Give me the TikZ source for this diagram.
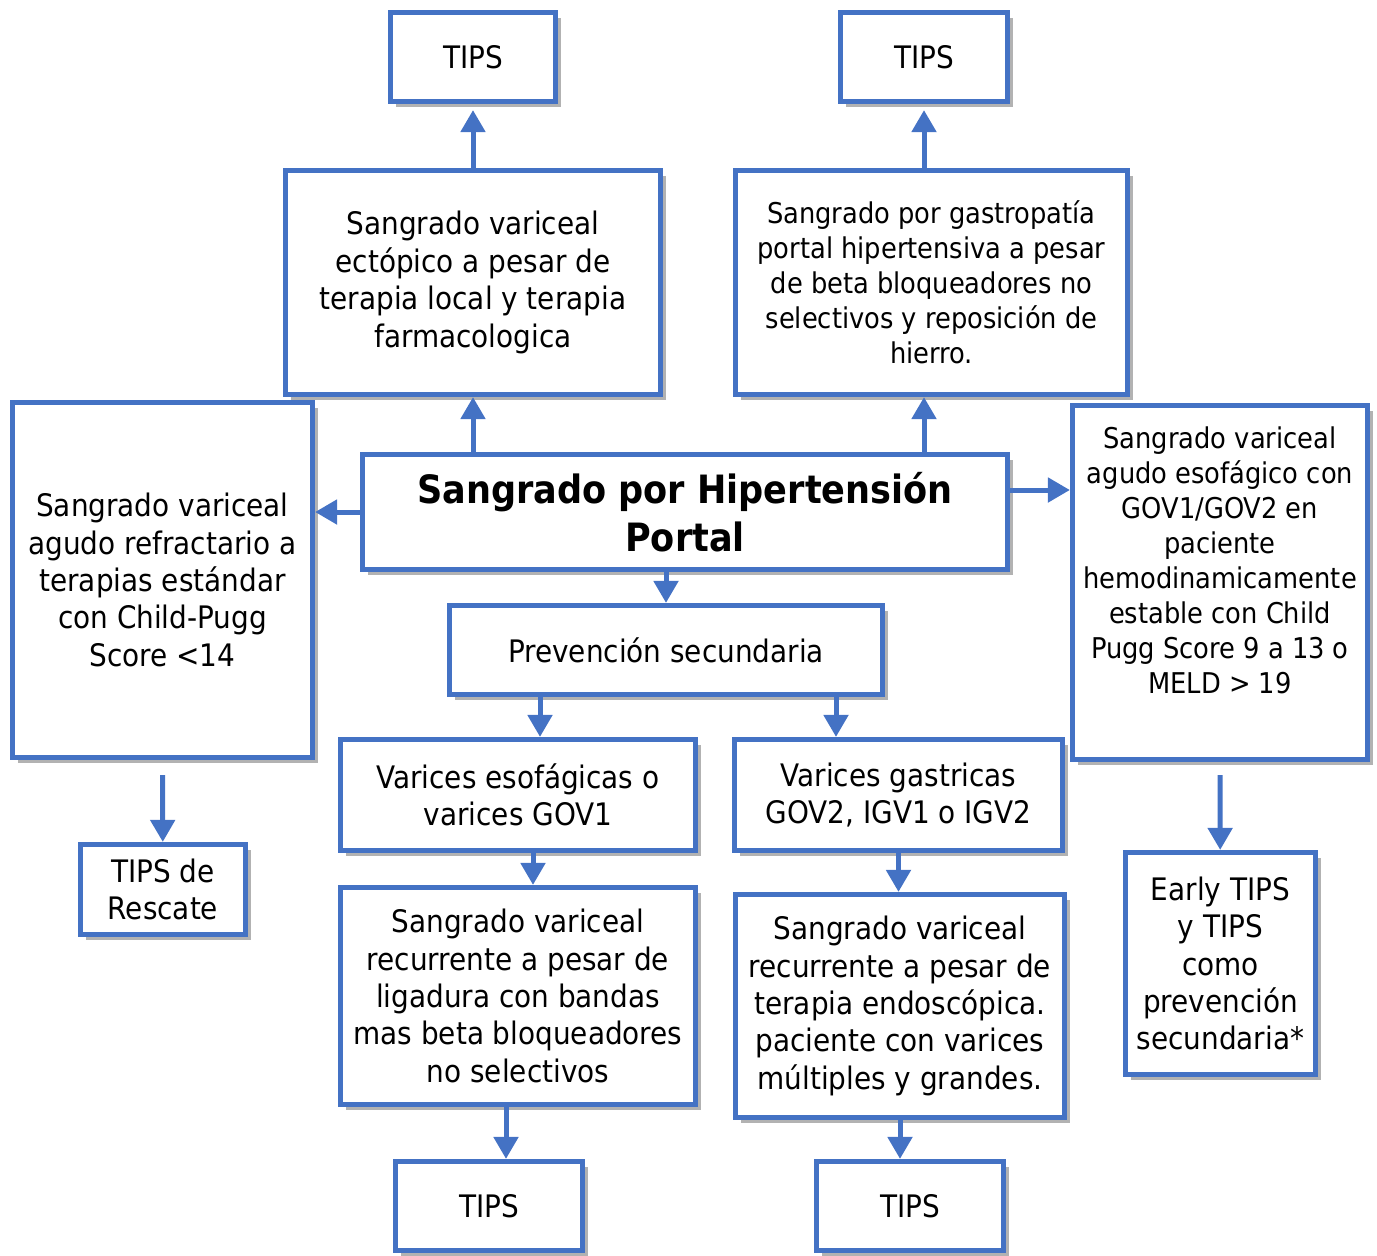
\documentclass[tikz,border=0pt]{standalone}
\usepackage{fontspec}
\setmainfont{DejaVu Sans Condensed}
\usepackage{xcolor}
\usepackage{tikz}
\usetikzlibrary{arrows.meta,shadows,calc}
\definecolor{boxblue}{RGB}{68, 114, 196}

\begin{document}
\begin{tikzpicture}[x=0.5pt,y=0.5pt,yscale=-1,xscale=1,
  box/.style={draw=boxblue,line width=2.6pt,fill=white,align=center,inner sep=2pt,
    font=\fontsize{15.5}{18.7}\selectfont,
    drop shadow={shadow xshift=2.5pt,shadow yshift=-2.5pt,opacity=0.3,fill=black}},
  smallbox/.style={box,font=\fontsize{14.3}{17.5}\selectfont},
  arr/.style={draw=boxblue,line width=2.5pt,-{Triangle[width=12pt,length=11pt]}}]
\useasboundingbox (0,0) rectangle (1377,1255);

%Top row
\node [box,minimum width=82.5pt,minimum height=44.5pt] (tipsecto) at (473,57) {TIPS};
\node [box,minimum width=83.5pt,minimum height=44.5pt] (tipsgastro) at (924,57) {TIPS};
\node [box,minimum width=187.5pt,minimum height=112pt] (ecto) at (473,282.5) {Sangrado variceal\\ectópico a pesar de\\terapia local y terapia\\farmacologica};
\node [smallbox,minimum width=196pt,minimum height=112pt] (gastro) at (931.5,282.5) {Sangrado por gastropatía\\portal hipertensiva a pesar\\de beta bloqueadores no\\selectivos y reposición de\\hierro.};

%Middle row
\node [box,minimum width=150pt,minimum height=177.5pt] (refract) at (162.5,580) {Sangrado variceal\\agudo refractario a\\terapias estándar\\con Child-Pugg\\Score <14};
\node [box,minimum width=322.5pt,minimum height=57.5pt,font=\fontsize{19.5}{24}\selectfont\bfseries] (title) at (685,512) {Sangrado por Hipertensión\\Portal};
\node [smallbox,minimum width=147.5pt,minimum height=177pt] (agudo) at (1220,582.5) {Sangrado variceal\\agudo esofágico con\\GOV1/GOV2 en\\paciente\\hemodinamicamente\\estable con Child\\Pugg Score 9 a 13 o\\MELD > 19\\ \strut};
\node [box,minimum width=216.5pt,minimum height=44.5pt] (prev) at (666,650) {Prevención secundaria};
\node [box,minimum width=177.5pt,minimum height=55.5pt] (esof) at (518,795) {Varices esofágicas o\\varices GOV1};
\node [box,minimum width=164pt,minimum height=55.5pt] (gastric) at (898.5,795) {Varices gastricas\\GOV2, IGV1 o IGV2};

%Bottom row
\node [box,minimum width=82.5pt,minimum height=45pt] (rescate) at (163,889.5) {TIPS de\\Rescate};
\node [box,minimum width=177.5pt,minimum height=108.5pt] (recesof) at (518,996) {Sangrado variceal\\recurrente a pesar de\\ligadura con bandas\\mas beta bloqueadores\\no selectivos};
\node [box,minimum width=164.5pt,minimum height=111.5pt] (recgastric) at (900,1006) {Sangrado variceal\\recurrente a pesar de\\terapia endoscópica.\\paciente con varices\\múltiples y grandes.};
\node [box,minimum width=95pt,minimum height=111pt] (early) at (1220.5,963.5) {Early TIPS\\y TIPS\\como\\prevención\\secundaria*};
\node [box,minimum width=93.5pt,minimum height=44.5pt] (tipsesof) at (489,1206) {TIPS};
\node [box,minimum width=93.5pt,minimum height=44.5pt] (tipsgastric) at (910,1206) {TIPS};

%Arrow start points off centre
\coordinate (prevl) at ($(prev.south)+(-126,0)$);
\coordinate (prevr) at ($(prev.south)+(170,0)$);
\coordinate (esofb) at ($(esof.south)+(15,0)$);
\coordinate (recb) at ($(recesof.south)+(-12,0)$);
\coordinate (titler) at ($(title.east)+(0,-22)$);

%Arrows
\draw [arr,shorten >=3pt] (ecto) -- (tipsecto);
\draw [arr,shorten >=3pt] (gastro.north -| tipsgastro) -- (tipsgastro);
\draw [arr] (title.north -| ecto) -- (ecto.south);
\draw [arr] (title.north -| tipsgastro) -- (gastro.south -| tipsgastro);
\draw [arr] (title.west) -- (title.west -| refract.east);
\draw [arr] (titler) -- (titler -| agudo.west);
\draw [arr] (title.south -| prev) -- (prev);
\draw [arr] (prevl) -- (prevl |- esof.north);
\draw [arr] (prevr) -- (prevr |- gastric.north);
\draw [arr] (esofb) -- (esofb |- recesof.north);
\draw [arr] (gastric.south) -- (gastric.south |- recgastric.north);
\draw [arr] ($(refract.south)+(0,15)$) -- (rescate);
\draw [arr] ($(agudo.south)+(0,13)$) -- (early);
\draw [arr] (recb) -- (recb |- tipsesof.north);
\draw [arr] (recgastric.south) -- (recgastric.south |- tipsgastric.north);

\end{tikzpicture}
\end{document}
